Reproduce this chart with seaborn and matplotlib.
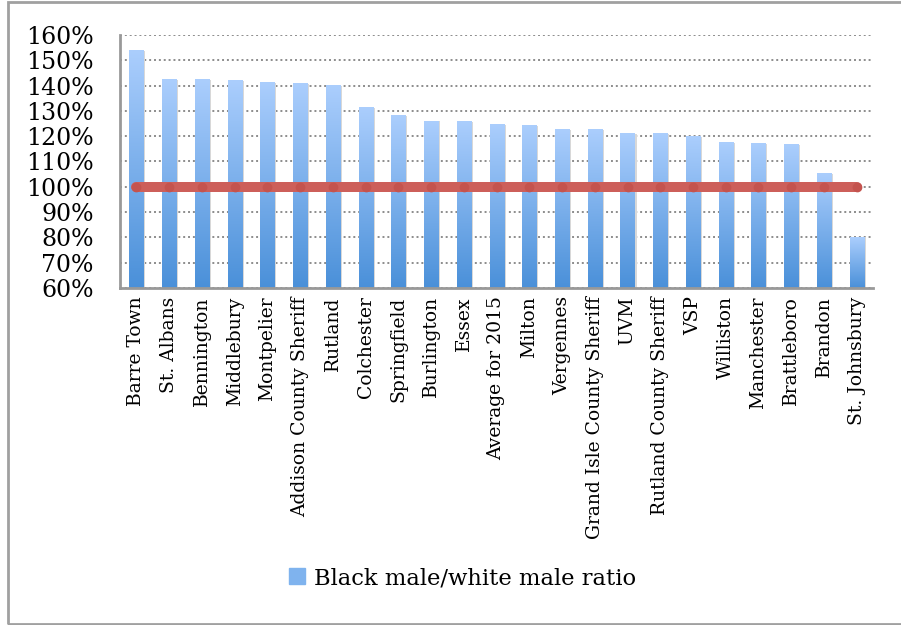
import numpy as np
import pandas as pd
import matplotlib
matplotlib.use("Agg")
import matplotlib.pyplot as plt
import seaborn as sns
from matplotlib.patches import Rectangle
from matplotlib.ticker import FuncFormatter, MultipleLocator

# data
agencies = ["Barre Town", "St. Albans", "Bennington", "Middlebury", "Montpelier",
            "Addison County Sheriff", "Rutland", "Colchester", "Springfield",
            "Burlington", "Essex", "Average for 2015", "Milton", "Vergennes",
            "Grand Isle County Sheriff", "UVM", "Rutland County Sheriff", "VSP",
            "Williston", "Manchester", "Brattleboro", "Brandon", "St. Johnsbury"]
ratio = [153.7, 142.3, 142.3, 141.9, 141.1, 140.7, 139.9, 131.2, 128.0, 126.0,
         125.7, 124.5, 124.1, 122.6, 122.5, 120.9, 120.9, 119.8, 117.4, 117.0,
         116.6, 105.1, 80.0]
parity = [100] * len(agencies)

df = pd.DataFrame({"agency": agencies, "ratio": ratio, "parity": parity})

sns.set_style("white")
plt.rcParams['font.family'] = ['DejaVu Serif']
plt.rcParams['text.color'] = 'black'
plt.rcParams['xtick.labelcolor'] = 'black'
plt.rcParams['ytick.labelcolor'] = 'black'

fig = plt.figure(figsize=(9.01, 6.25), dpi=100)
ax = fig.add_axes([0.1332, 0.5392, 0.8358, 0.4048])

sns.barplot(data=df, x="agency", y="ratio", color="#6ea6e6", width=0.43,
            ax=ax, zorder=2)

ymin, ymax = 60, 160
grad = np.linspace(0, 1, 256).reshape(-1, 1)
cmap = matplotlib.colors.LinearSegmentedColormap.from_list("blu", ["#4a90d9", "#abcefd"])
for bar in ax.patches:
    x0 = bar.get_x()
    w = bar.get_width()
    top = bar.get_height()
    bar.set_alpha(0)
    # soft shadow on the right
    ax.add_patch(Rectangle((x0 + w, ymin), 0.06, top - ymin, color="#d8d8d8",
                           zorder=1.5, lw=0))
    ax.imshow(grad, extent=[x0, x0 + w, ymin, top], origin="lower", cmap=cmap,
              aspect="auto", zorder=2.5)

sns.lineplot(data=df, x="agency", y="parity", color="#cd5f5a", lw=7.2,
             marker="o", markersize=7, markerfacecolor="#c4534e",
             markeredgewidth=0, ax=ax, zorder=4,
             solid_capstyle="round")

ax.set_xlim(-0.5, len(agencies) - 0.5)
ax.set_ylim(ymin, ymax)
ax.yaxis.set_major_locator(MultipleLocator(10))
ax.yaxis.set_major_formatter(FuncFormatter(lambda v, p: f"{v:.0f}%"))
ax.set_xlabel("")
ax.set_ylabel("")
ax.grid(axis="y", color="#8c8c8c", linestyle=(0, (1, 1.5)), lw=1.4, zorder=0)

for side in ["top", "right"]:
    ax.spines[side].set_visible(False)
for side in ["left", "bottom"]:
    ax.spines[side].set_color("#999999")
    ax.spines[side].set_linewidth(2)

ax.set_xticks(np.arange(len(agencies)))
ax.set_xticklabels(agencies, rotation=90, fontsize=13.5)
ax.set_xticks(np.arange(len(agencies) + 1) - 0.5, minor=True)
ax.tick_params(axis="x", which="major", length=0, pad=6)
ax.tick_params(axis="x", which="minor", length=6, width=2, color="#999999")
ax.tick_params(axis="y", length=7, width=2, color="#999999", labelsize=17, pad=12)

handle = Rectangle((0, 0), 1, 1, color="#7fb3ee")
fig.legend([handle], ["Black male/white male ratio"], loc="center",
           bbox_to_anchor=(0.513, 0.075), frameon=False, fontsize=16.3,
           handlelength=0.7, handleheight=0.7, handletextpad=0.4)

fig.add_artist(Rectangle((8 / 901, 1.5 / 625), 1.0, 1 - 3 / 625,
                         transform=fig.transFigure, fill=False,
                         edgecolor="#a0a0a0", lw=2))

fig.savefig("out.png", dpi=100)
